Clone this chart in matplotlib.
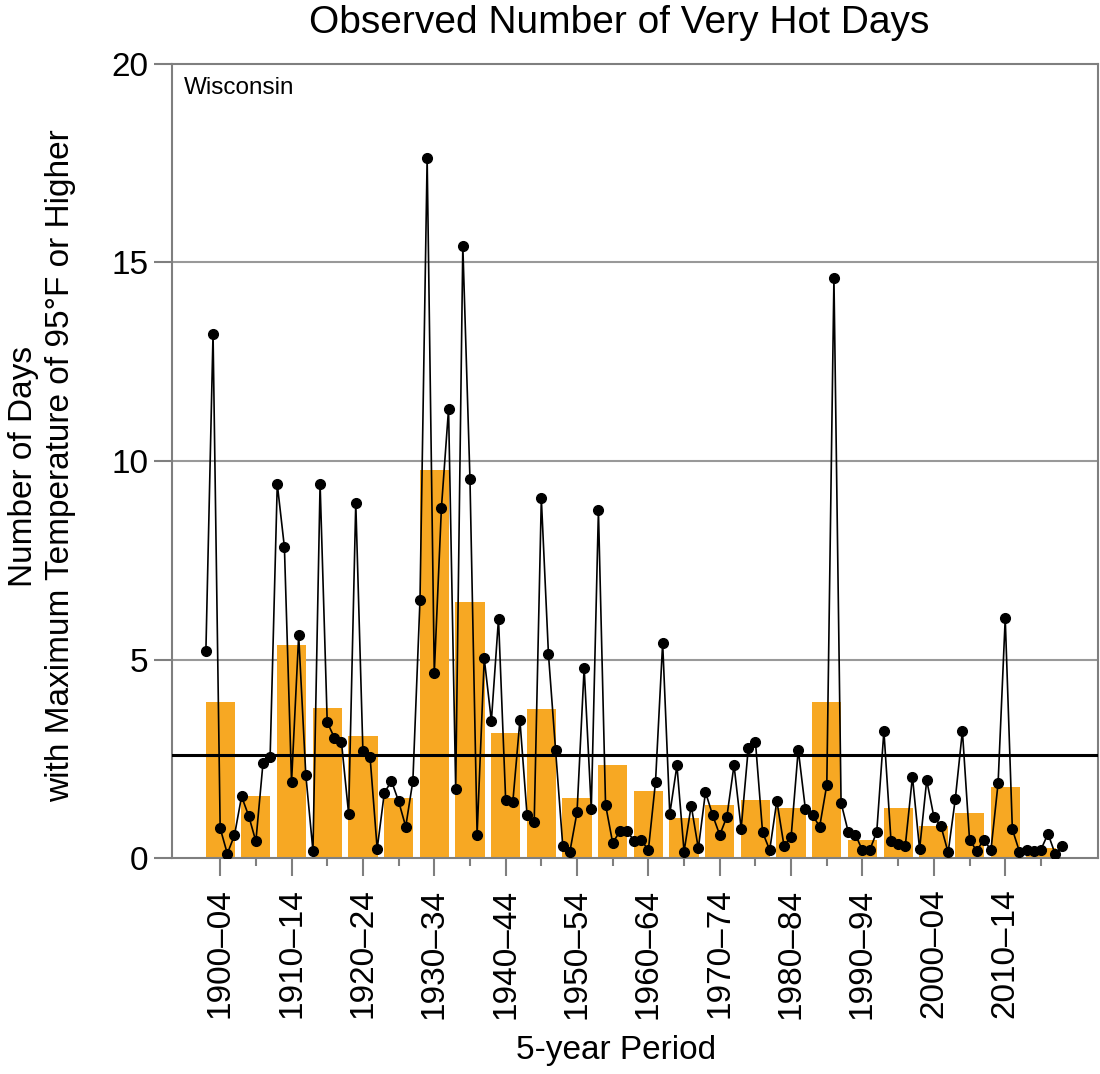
import numpy as np
import matplotlib
matplotlib.use("Agg")
import matplotlib.pyplot as plt
from matplotlib.ticker import FixedLocator

plt.rcParams['font.family'] = ['Liberation Sans', 'DejaVu Sans']

# yearly observed values, 1900-2020
years = np.arange(1900, 2021)
hot_days = [
    5.22, 13.21, 0.75, 0.11, 0.57, 1.55, 1.06, 0.42, 2.39, 2.55,
    9.42, 7.83, 1.91, 5.61, 2.09, 0.18, 9.43, 3.42, 3.03, 2.91,
    1.11, 8.95, 2.69, 2.55, 0.23, 1.64, 1.94, 1.43, 0.79, 1.94,
    6.51, 17.63, 4.66, 8.82, 11.31, 1.75, 15.42, 9.55, 0.59, 5.03,
    3.45, 6.03, 1.47, 1.40, 3.47, 1.08, 0.91, 9.06, 5.13, 2.71,
    0.31, 0.16, 1.15, 4.79, 1.23, 8.76, 1.34, 0.38, 0.67, 0.67,
    0.44, 0.45, 0.20, 1.92, 5.42, 1.11, 2.33, 0.16, 1.32, 0.24,
    1.66, 1.08, 0.58, 1.04, 2.34, 0.74, 2.77, 2.93, 0.65, 0.20,
    1.44, 0.31, 0.53, 2.73, 1.23, 1.08, 0.79, 1.84, 14.61, 1.39,
    0.66, 0.59, 0.19, 0.19, 0.66, 3.20, 0.42, 0.36, 0.31, 2.05,
    0.22, 1.96, 1.04, 0.80, 0.14, 1.48, 3.20, 0.46, 0.18, 0.46,
    0.20, 1.88, 6.04, 0.72, 0.16, 0.21, 0.17, 0.21, 0.61, 0.10,
    0.29,
]

# 5-year period averages
period_start = np.arange(1900, 2020, 5)
period_avg = [
    3.94, 1.57, 5.36, 3.78, 3.08, 1.50, 9.77, 6.46, 3.15, 3.76,
    1.51, 2.35, 1.68, 1.02, 1.33, 1.45, 1.26, 3.93, 0.45, 1.26,
    0.80, 1.14, 1.79, 0.26,
]
long_term_avg = 2.60
period_labels = [f"{s}\u2013{str(s + 4)[-2:]}" for s in period_start]

GRAY = "#7f7f7f"
ORANGE = "#F7A823"

fig = plt.figure(figsize=(11, 10.74), dpi=100)
ax = fig.add_axes([172 / 1100, 1 - 858 / 1074, 926 / 1100, 794 / 1074])

centers = period_start + 2
ax.bar(centers, period_avg, width=4.1, color=ORANGE, zorder=2)
ax.axhline(long_term_avg, color="black", lw=2.2, zorder=3)
ax.plot(years, hot_days, color="black", lw=1.2, marker="o", ms=7, zorder=4)

ax.set_xlim(1895.25, 2025.0)
ax.set_ylim(0, 20)
ax.set_yticks([0, 5, 10, 15, 20])
for yv in [5, 10, 15]:
    ax.axhline(yv, color="#999999", lw=1.5, zorder=1)

ax.xaxis.set_major_locator(FixedLocator(centers[::2]))
ax.xaxis.set_minor_locator(FixedLocator(centers[1::2]))
ax.set_xticklabels(period_labels[::2], rotation=90)

ax.tick_params(axis="x", which="major", length=13, width=1.5, color=GRAY,
               labelsize=24, pad=9)
ax.tick_params(axis="x", which="minor", length=6, width=1.5, color=GRAY)
ax.tick_params(axis="y", length=13, width=1.5, color=GRAY, labelsize=24, pad=4)

for sp in ax.spines.values():
    sp.set_color(GRAY)
    sp.set_linewidth(1.5)

ax.text(0.013, 0.983, "Wisconsin", transform=ax.transAxes, ha="left", va="top",
        fontsize=17.5, family=["Liberation Sans Narrow", "Liberation Sans"])

fig.text(619 / 1100, 1 - 23 / 1074, "Observed Number of Very Hot Days",
         ha="center", va="center", fontsize=28)
fig.text(42 / 1100, 1 - 466 / 1074,
         "Number of Days\nwith Maximum Temperature of 95°F or Higher",
         ha="center", va="center", rotation=90, fontsize=24,
         multialignment="center", linespacing=1.25)
fig.text(616 / 1100, 1 - 1050 / 1074, "5-year Period", ha="center",
         va="center", fontsize=24)

fig.savefig("out.png", dpi=100)
